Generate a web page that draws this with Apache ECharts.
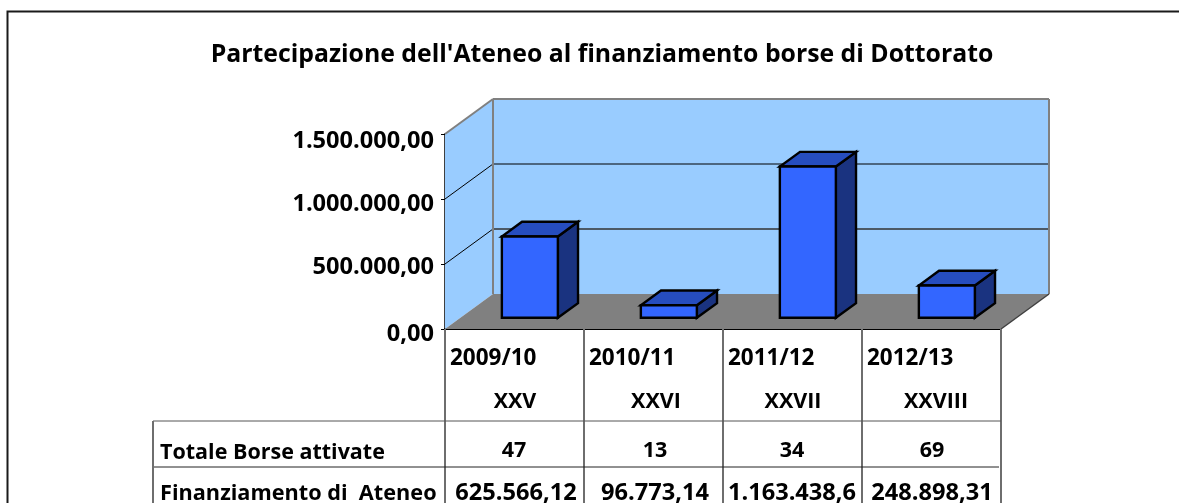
<!DOCTYPE html>
<html><head><meta charset="utf-8">
<style>html,body{margin:0;padding:0;background:#fff}#c{width:1179px;height:503px}</style>
<script src="https://cdn.jsdelivr.net/npm/echarts@6/dist/echarts.min.js"></script>
</head><body><div id="c"></div>
<script>
const years = ['2009/10','2010/11','2011/12','2012/13'];
const cycles = ['XXV','XXVI','XXVII','XXVIII'];
const borse = ['47','13','34','69'];
const finanziamentoLabels = ['625.566,12','96.773,14','1.163.438,6','248.898,31'];
const finanziamento = [625566.12, 96773.14, 1163438.6, 248898.31];
const ticks = [0, 500000, 1000000, 1500000];

const FONT = '"Open Sans", sans-serif';
const DX = 48, DY = -35;
const BAR_NEAR = 0.32, BAR_FAR = 0.74, BAR_W = 56;

const tickKey = v => 't' + ticks.indexOf(v);
const fmt = v => {
  const s = Math.round(v).toString().replace(/\B(?=(\d{3})+$)/g, '.');
  return '{' + tickKey(v) + '|' + s + ',00}';
};
const labelStyle = pad => ({ fontFamily: FONT, fontWeight: 'bold', fontSize: 23.6, color: '#000', padding: [pad, 0, 0, 0] });
const poly = (points, fill, stroke, lw, z) => ({
  type: 'polygon', shape: { points }, z2: z || 0,
  style: { fill: fill || 'none', stroke: stroke || null, lineWidth: lw || 0, lineJoin: 'miter' }
});
const seg = (a, b, stroke, lw, z) => ({
  type: 'line', z2: z || 0,
  shape: { x1: a[0], y1: a[1], x2: b[0], y2: b[1] },
  style: { stroke, lineWidth: lw }
});

function renderWalls(params, api) {
  const band = api.size([1, 0])[0];
  const l = api.coord([0, 0])[0] - band / 2;
  const r = api.coord([3, 0])[0] + band / 2;
  const y0 = api.coord([0, 0])[1];
  const yT = api.coord([0, 1500000])[1];
  const ch = [
    poly([[l, y0], [l + DX, y0 + DY], [l + DX, yT + DY], [l, yT]], '#99ccff'),
    poly([[l + DX, y0 + DY], [r + DX, y0 + DY], [r + DX, yT + DY], [l + DX, yT + DY]], '#99ccff'),
    poly([[l, y0], [r, y0], [r + DX, y0 + DY], [l + DX, y0 + DY]], '#808080')
  ];
  ticks.slice(1, 3).forEach((t, i) => {
    const y = api.coord([0, t])[1];
    ch.push(seg([l, y], [l + DX, y + DY], '#000', 1, 1));
    ch.push(seg([l + DX, y + DY], [r + DX, y + DY], i === 0 ? '#333' : '#000', i === 0 ? 1.5 : 1, 1));
  });
  ch.push(seg([l, yT], [l + DX, yT + DY], '#808080', 2, 2));
  ch.push(seg([l + DX, yT + DY], [r + DX, yT + DY], '#808080', 2, 2));
  ch.push(seg([r + DX, yT + DY], [r + DX, y0 + DY], '#808080', 2, 2));
  ch.push(seg([l + DX, yT + DY], [l + DX, y0 + DY], '#808080', 2, 2));
  ch.push(seg([r, y0], [r + DX, y0 + DY], '#404040', 1.5, 2));
  return { type: 'group', children: ch };
}

function renderBar(params, api) {
  const c = api.coord([api.value(0), 0]);
  const top = api.coord([api.value(0), api.value(1)]);
  const h = c[1] - top[1];
  const x0 = c[0] + DX * BAR_NEAR - BAR_W / 2, x1 = x0 + BAR_W;
  const y0 = c[1] + DY * BAR_NEAR, yt = y0 - h;
  const dx = DX * (BAR_FAR - BAR_NEAR), dy = DY * (BAR_FAR - BAR_NEAR);
  return { type: 'group', children: [
    poly([[x1, y0], [x1 + dx, y0 + dy], [x1 + dx, yt + dy], [x1, yt]], '#1a3380', '#000', 2.4),
    poly([[x0, yt], [x1, yt], [x1 + dx, yt + dy], [x0 + dx, yt + dy]], '#264dbf', '#000', 2.4),
    poly([[x0, y0], [x1, y0], [x1, yt], [x0, yt]], '#3366ff', '#000', 2.4)
  ]};
}

// table
const COLS = [445, 584, 723, 862, 1001];
const TBL_L = 153, RY1 = 421, RY2 = 467, BOTTOM = 503, FLOOR = 329;
const txt = (x, y, text, size, align) => ({
  type: 'text', x, y, z: 20,
  style: { text, fill: '#000', font: 'bold ' + size + 'px ' + FONT, textAlign: align || 'center', textVerticalAlign: 'middle' }
});
const gline = (x1, y1, x2, y2, stroke, lw) => ({
  type: 'line', z: 19, shape: { x1, y1, x2, y2 }, style: { stroke, lineWidth: lw }
});
const graphics = [];
COLS.forEach(x => graphics.push(gline(x, FLOOR, x, BOTTOM, '#6e6e6e', 2)));
graphics.push(gline(TBL_L, RY1, 1001, RY1, '#555', 1));
graphics.push(gline(TBL_L, RY2, 999, RY2, '#222', 1));
graphics.push(gline(TBL_L, RY1, TBL_L, BOTTOM, '#6e6e6e', 2));
const c2 = [515, 656, 793, 936], c3 = [514, 655, 792, 932], c4 = [516, 655, 792, 932];
years.forEach((y, i) => {
  graphics.push(txt(COLS[i] + 5, 359, y, 22.5, 'left'));
  graphics.push(txt(c2[i], 402, cycles[i], 21.5));
  graphics.push(txt(c3[i], 451, borse[i], 21.5));
  graphics.push(txt(c4[i], 493, finanziamentoLabels[i], 23.6));
});
graphics.push(txt(160, 453, 'Totale Borse attivate', 21.5, 'left'));
graphics.push(txt(160, 494, 'Finanziamento di  Ateneo', 21.7, 'left'));
// chart frame: left side and top only
graphics.push({ type: 'polyline', z: 19, shape: { points: [[7.5, 503], [7.5, 11.5], [1179, 11.5]] }, style: { fill: 'none', stroke: '#1a1a1a', lineWidth: 2 } });

const chart = echarts.init(document.getElementById('c'), null, { renderer: 'canvas' });
chart.setOption({
  animation: false,
  backgroundColor: '#fff',
  title: {
    text: "Partecipazione dell'Ateneo al finanziamento borse di Dottorato",
    left: 597, top: 37, textAlign: 'center',
    textStyle: { fontFamily: FONT, fontWeight: 'bold', fontSize: 24.8, color: '#000' }
  },
  grid: { left: 445, right: 178, top: 134, bottom: 174 },
  xAxis: {
    type: 'category', data: years, boundaryGap: true,
    axisLabel: { show: false }, axisTick: { show: false },
    axisLine: { show: true, lineStyle: { color: '#000', width: 2 } },
    splitLine: { show: false }
  },
  yAxis: {
    type: 'value', min: 0, max: 1500000, interval: 500000,
    axisLine: { show: true, lineStyle: { color: '#404040', width: 2 } },
    axisTick: { show: true, length: 4, lineStyle: { color: '#000' } },
    axisLabel: {
      formatter: fmt, margin: 11, fontFamily: FONT, fontWeight: 'bold', fontSize: 23.6, color: '#000',
      rich: { t0: labelStyle(10), t1: labelStyle(6), t2: labelStyle(10), t3: labelStyle(14) }
    },
    splitLine: { show: false }
  },
  graphic: graphics,
  series: [
    { type: 'custom', clip: false, z: 1, silent: true, renderItem: renderWalls, data: [[0, 0]] },
    { type: 'custom', clip: false, z: 3, renderItem: renderBar,
      encode: { x: 0, y: 1 },
      data: finanziamento.map((v, i) => [i, v]) }
  ]
});
</script></body></html>
